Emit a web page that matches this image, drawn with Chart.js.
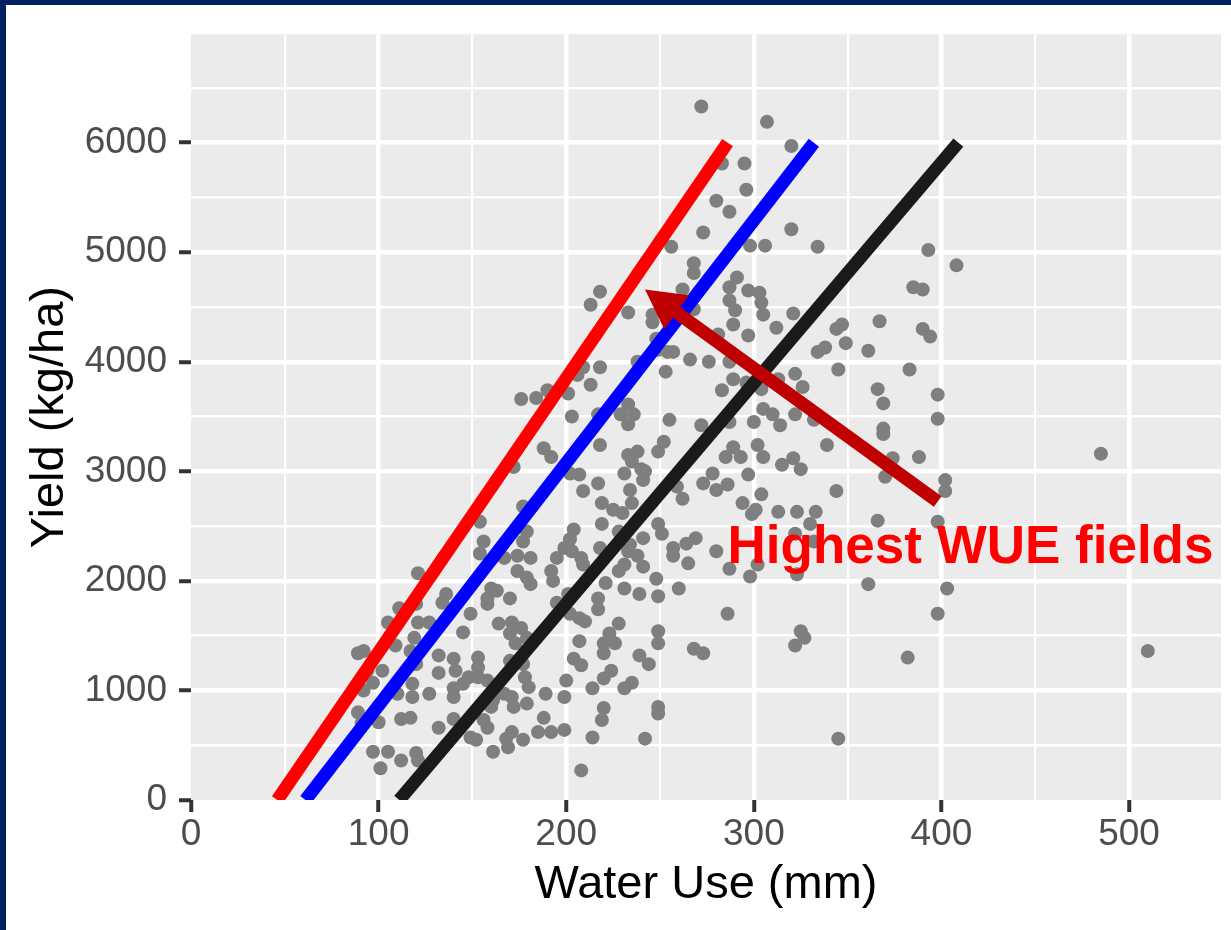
<!DOCTYPE html>
<html>
<head>
<meta charset="utf-8">
<script src="https://cdn.jsdelivr.net/npm/chart.js@4/dist/chart.umd.min.js"></script>
<style>
html,body{margin:0;padding:0;background:#ffffff;}
#wrap{position:relative;width:1231px;height:930px;overflow:hidden;}
#c{position:absolute;left:0;top:0;}
.bt{position:absolute;left:0;top:0;width:1231px;height:5px;background:#002060;}
.bl{position:absolute;left:0;top:0;width:6px;height:930px;background:#002060;}
</style>
</head>
<body>
<div id="wrap"><canvas id="c" width="1231" height="930"></canvas><div class="bt"></div><div class="bl"></div></div>
<script>
// ---- data ----
const waterUse = [
272,307,320,283,295,296,280,287,320,273,256,298,306,268,268,291,287,297,303,262,
218,213,287,290,304,305,321,233,246,246,268,289,297,312,281,248,249,257,254,266,
276,287,238,253,218,209,213,201,206,283,289,296,304,313,233,229,236,233,203,217,
255,272,287,300,305,310,314,334,393,408,385,390,344,347,367,390,394,338,334,349,
361,322,345,383,326,366,369,398,398,322,332,369,176,184,190,188,192,172,177,154,
156,154,179,177,167,174,181,174,179,181,160,163,158,170,158,195,192,193,195,121,
136,134,111,120,149,164,171,176,105,121,127,119,145,170,173,179,92,89,109,117,
132,140,153,153,170,177,94,102,120,132,141,148,145,153,158,178,180,97,92,118,
118,127,110,140,140,167,171,172,179,189,161,160,89,91,100,112,117,132,140,156,
158,149,152,168,171,177,169,188,185,192,97,105,112,120,121,101,161,218,233,238,
235,231,240,242,241,249,252,217,209,207,202,234,235,219,225,230,219,228,204,202,
199,203,208,209,218,234,233,238,241,231,228,241,221,231,239,248,249,217,217,201,
202,210,207,249,251,259,262,257,257,264,269,265,260,273,278,280,285,289,286,293,
297,302,305,304,294,299,301,313,315,280,287,298,302,286,228,223,220,226,220,207,
204,208,249,249,239,244,268,273,224,220,214,235,231,200,199,220,219,249,249,199,
214,242,208,339,369,374,388,370,402,402,344,321,325,323,333,330,366,398,322,332,
323,361,403,398,325,327,322,382,345,485,510
];
const yieldKgHa = [
6330,6190,5970,5810,5810,5570,5470,5370,5210,5180,5050,5060,5060,4900,4810,4770,4680,4650,4630,4660,
4640,4520,4560,4470,4540,4430,4440,4450,4430,4360,4480,4340,4240,4310,4250,4210,4110,4090,4090,4020,
4000,4000,4000,3910,3950,3950,3790,3710,3880,3740,3840,3810,3750,3840,3610,3520,3520,3430,3500,3520,
3470,3420,3450,3450,3570,3520,3420,5050,5020,4880,4680,4660,4300,4340,4370,4300,4230,4130,4090,4170,
4100,3890,3930,3930,3770,3750,3620,3700,3480,3520,3470,3390,3660,3670,3740,3210,3130,3040,2680,2540,
2360,2250,2450,2360,2210,2230,2210,2090,2030,1970,1930,1910,1840,1840,1790,2210,2090,2000,1800,2070,
1880,1800,1750,1790,1700,1610,1620,1570,1620,1620,1620,1480,1530,1520,1430,1480,1360,1340,1410,1360,
1320,1290,1300,1210,1270,1240,1180,1180,1240,1160,1180,1120,1060,1120,1090,1120,1030,1070,1000,1060,
940,970,970,1020,940,970,940,850,880,970,910,850,800,700,710,740,750,660,740,730,
660,570,550,560,620,550,480,750,620,620,440,440,360,430,360,290,440,3240,3150,3180,
3090,2980,3020,3000,2920,3180,3270,2890,2820,2970,2980,2830,2710,2710,2650,2620,2520,2450,2470,2380,
2300,2270,2210,2150,2300,2330,2270,2230,2390,2150,2090,2130,1980,1930,1880,2020,1860,1840,1740,1880,
1700,1630,1660,2520,2430,2860,2750,2300,2230,2340,2390,2160,1930,2890,2980,2830,3130,3220,2880,3130,
2970,3240,3130,2790,2710,2610,2650,2630,3060,2270,2110,2040,2150,1700,1610,1520,1430,1430,1340,1450,
1290,1230,1540,1430,1320,1240,1380,1340,1180,1110,1020,1070,1020,1090,940,840,730,850,790,640,
570,560,270,3240,3340,3120,3130,2950,2920,2820,2820,3120,3020,2630,2630,2520,2550,2540,2430,2360,
2060,1970,1930,1700,1540,1480,1410,1300,560,3160,1360
];
// reference lines (water use at yield 0 and at 6000 kg/ha)
const redLineX   = [46, 286];   const redLineY   = [0, 6000];
const blueLineX  = [61, 332];   const blueLineY  = [0, 6000];
const blackLineX = [111, 409];  const blackLineY = [0, 6000];
// axis ticks / grid (major every 100 / 1000, minor half-way)
const xTickValues = [0, 50, 100, 150, 200, 250, 300, 350, 400, 450, 500];
const xMajorTicks = [0, 100, 200, 300, 400, 500];
const yTickValues = [0, 500, 1000, 1500, 2000, 2500, 3000, 3500, 4000, 4500, 5000, 5500, 6000, 6500];
const yMajorTicks = [0, 1000, 2000, 3000, 4000, 5000, 6000];
const xLimits = [0, 549];
const yLimits = [0, 6990];
// annotation anchors (data units)
const arrowTail = [398, 2725];
const arrowTip  = [242, 4660];
const noteText  = 'Highest WUE fields';
const noteAnchor = [286, 2160];
const xTitle = 'Water Use (mm)';
const yTitle = 'Yield (kg/ha)';

// ---- build ----
const FONT = "'Liberation Sans', Arial, Helvetica, sans-serif";
const pts = waterUse.map((x, i) => ({x: x, y: yieldKgHa[i]}));
const seg = (xs, ys) => xs.map((x, i) => ({x: x, y: ys[i]}));

const panelPlugin = {
  id: 'panel',
  beforeDraw(chart) {
    const {ctx, chartArea: a} = chart;
    ctx.save();
    ctx.fillStyle = '#ffffff';
    ctx.fillRect(0, 0, chart.width, chart.height);
    ctx.fillStyle = '#EBEBEB';
    ctx.fillRect(a.left, a.top, a.right - a.left, a.bottom - a.top);
    ctx.restore();
  }
};

const notePlugin = {
  id: 'note',
  afterDatasetsDraw(chart) {
    const {ctx, scales: {x, y}} = chart;
    const tx = x.getPixelForValue(arrowTail[0]), ty = y.getPixelForValue(arrowTail[1]);
    const hx = x.getPixelForValue(arrowTip[0]),  hy = y.getPixelForValue(arrowTip[1]);
    const dx = hx - tx, dy = hy - ty, len = Math.hypot(dx, dy);
    const ux = dx / len, uy = dy / len, px = -uy, py = ux;
    const headL = 39, headW = 21;
    const bx = hx - ux * headL, by = hy - uy * headL;
    ctx.save();
    ctx.strokeStyle = '#C00000';
    ctx.fillStyle = '#C00000';
    ctx.lineWidth = 13;
    ctx.lineCap = 'butt';
    ctx.beginPath();
    ctx.moveTo(tx, ty);
    ctx.lineTo(bx + ux * 2, by + uy * 2);
    ctx.stroke();
    ctx.beginPath();
    ctx.moveTo(hx, hy);
    ctx.lineTo(bx + px * headW, by + py * headW);
    ctx.lineTo(bx - px * headW, by - py * headW);
    ctx.closePath();
    ctx.fill();
    ctx.font = 'bold 53px ' + FONT;
    ctx.fillStyle = '#FF0000';
    ctx.textAlign = 'left';
    ctx.textBaseline = 'alphabetic';
    ctx.fillText(noteText, x.getPixelForValue(noteAnchor[0]), y.getPixelForValue(noteAnchor[1]));
    ctx.restore();
  }
};

const lineDs = (xs, ys, color) => ({
  type: 'scatter', data: seg(xs, ys), showLine: true, borderColor: color,
  backgroundColor: color, borderWidth: 13, borderCapStyle: 'butt',
  pointRadius: 0, pointHoverRadius: 0, tension: 0
});

const tickVal = (c) => (c && c.tick) ? c.tick.value : NaN;

new Chart(document.getElementById('c'), {
  type: 'scatter',
  data: {
    datasets: [
      lineDs(redLineX, redLineY, '#FF0000'),
      lineDs(blueLineX, blueLineY, '#0000FF'),
      lineDs(blackLineX, blackLineY, '#1A1A1A'),
      {
        type: 'scatter', data: pts, pointRadius: 7, pointHoverRadius: 7,
        pointBackgroundColor: '#7F7F7F', pointBorderWidth: 0, borderWidth: 0
      }
    ]
  },
  options: {
    responsive: false,
    animation: false,
    devicePixelRatio: 1,
    layout: {padding: {top: 30, right: 10, left: 0, bottom: 0}},
    plugins: {legend: {display: false}, tooltip: {enabled: false}},
    scales: {
      x: {
        type: 'linear', position: 'bottom', min: xLimits[0], max: xLimits[1],
        afterBuildTicks: (s) => { s.ticks = xTickValues.map(v => ({value: v})); },
        afterFit: (s) => { s.height = 130; },
        border: {display: false},
        grid: {
          color: (c) => tickVal(c) === 0 ? 'rgba(0,0,0,0)' : '#FFFFFF',
          lineWidth: (c) => xMajorTicks.includes(tickVal(c)) ? 4.5 : 2.2,
          drawTicks: true, tickLength: 12, tickWidth: 4,
          tickColor: (c) => xMajorTicks.includes(tickVal(c)) ? '#333333' : 'rgba(0,0,0,0)'
        },
        ticks: {
          autoSkip: false, maxRotation: 0, minRotation: 0,
          padding: 1, color: '#4D4D4D', font: {family: FONT, size: 37},
          callback: (v) => xMajorTicks.includes(v) ? String(v) : ''
        },
        title: {display: true, text: xTitle, color: '#000000', font: {family: FONT, size: 47},
          padding: {top: 0, bottom: 17}}
      },
      y: {
        type: 'linear', position: 'left', min: yLimits[0], max: yLimits[1],
        afterBuildTicks: (s) => { s.ticks = yTickValues.map(v => ({value: v})); },
        afterFit: (s) => { s.width = 191; },
        border: {display: false},
        grid: {
          color: (c) => tickVal(c) === 0 ? 'rgba(0,0,0,0)' : '#FFFFFF',
          lineWidth: (c) => yMajorTicks.includes(tickVal(c)) ? 4.5 : 2.6,
          drawTicks: true, tickLength: 12, tickWidth: 4,
          tickColor: (c) => yMajorTicks.includes(tickVal(c)) ? '#333333' : 'rgba(0,0,0,0)'
        },
        ticks: {
          autoSkip: false, padding: 12, color: '#4D4D4D', font: {family: FONT, size: 37},
          callback: (v) => yMajorTicks.includes(v) ? String(v) : ''
        },
        title: {display: true, text: yTitle, color: '#000000', font: {family: FONT, size: 47},
          padding: {top: 22, bottom: 0}}
      }
    }
  },
  plugins: [panelPlugin, notePlugin]
});
</script>
</body>
</html>
